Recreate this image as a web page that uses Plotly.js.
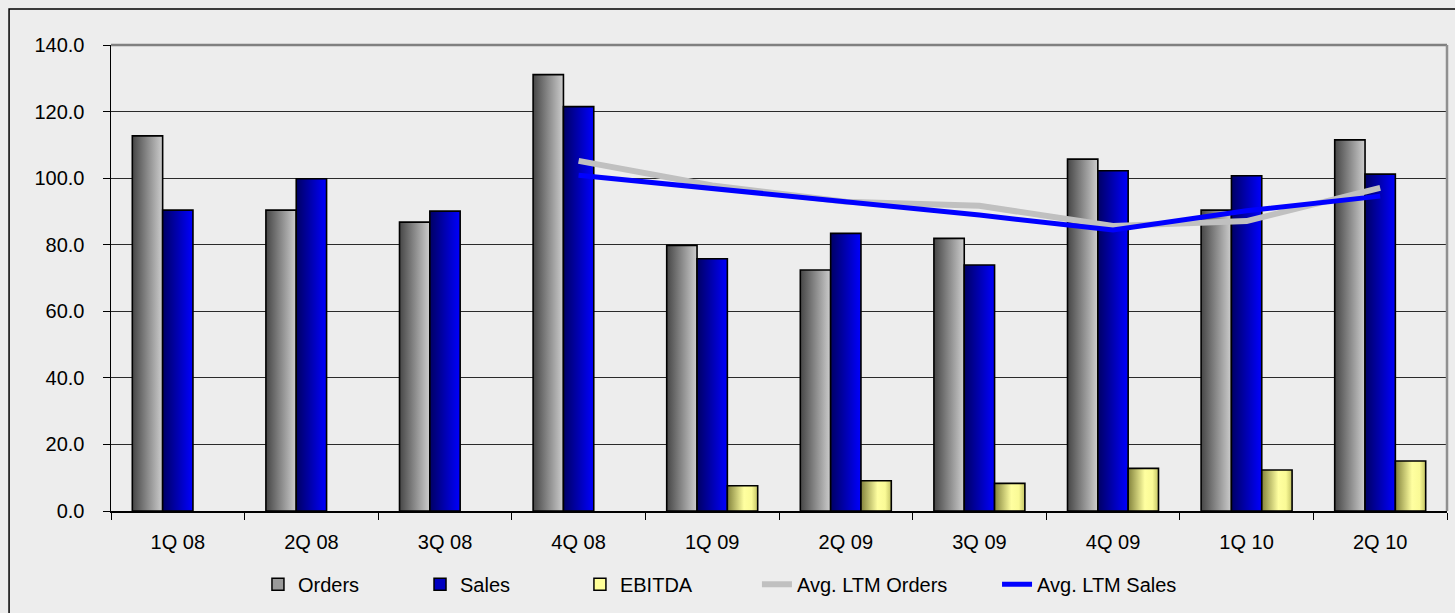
<!DOCTYPE html>
<html>
<head>
<meta charset="utf-8">
<script src="https://cdn.plot.ly/plotly-3.0.1.min.js"></script>
<style>
  html, body { margin: 0; padding: 0; background: #ededed; }
  #chart { width: 1455px; height: 613px; }
</style>
</head>
<body>
<div id="chart"></div>
<script>
// ---- data ----
const categories = ['1Q 08','2Q 08','3Q 08','4Q 08','1Q 09','2Q 09','3Q 09','4Q 09','1Q 10','2Q 10'];
const orders = [112.7, 90.4, 86.8, 131.1, 79.8, 72.4, 81.9, 105.7, 90.4, 111.5];
const sales  = [90.4, 99.8, 90.1, 121.5, 75.8, 83.4, 73.9, 102.2, 100.7, 101.2];
const ebitda = [null, null, null, null, 7.6, 9.1, 8.3, 12.8, 12.3, 15.0];
const ltmOrders = [null, null, null, 105.2, 97.8, 92.9, 91.7, 85.6, 87.1, 97.1];
const ltmSales  = [null, null, null, 100.9, 96.8, 92.7, 88.9, 84.4, 90.2, 94.6];
const yTickVals = [0, 20, 40, 60, 80, 100, 120, 140];

// ---- styling ----
const BAR_W = 0.227;
const series = [
  { name: 'Orders', data: orders, legendColor: '#9a9a9a',
    scale: [[0, 'rgb(70,70,70)'], [1, 'rgb(205,205,205)']] },
  { name: 'Sales', data: sales, legendColor: '#0000c0',
    scale: [[0, 'rgb(0,0,100)'], [1, 'rgb(0,0,255)']] },
  { name: 'EBITDA', data: ebitda, legendColor: '#ffff99',
    scale: [[0, 'rgb(130,130,60)'], [0.55, 'rgb(255,255,160)'], [0.8, 'rgb(250,250,150)'], [1, 'rgb(195,195,100)']] }
];

const traces = [];
// invisible bar traces on the category axis: they hold the categories and the legend entries
series.forEach((s, si) => {
  traces.push({
    type: 'bar', x: categories, y: categories.map(() => null),
    name: s.name, legend: si === 0 ? 'legend' : 'legend' + (si + 1),
    marker: { color: s.legendColor, line: { color: '#000000', width: 1.5 } },
    showlegend: true, hoverinfo: 'skip'
  });
});

// gradient-filled bars, placed on an overlaid linear axis (category index units)
series.forEach((s, si) => {
  s.data.forEach((v, i) => {
    if (v === null) return;
    const x0 = i - 1.5 * BAR_W + si * BAR_W;
    const x1 = x0 + BAR_W;
    traces.push({
      type: 'scatter', mode: 'lines', xaxis: 'x2', yaxis: 'y',
      x: [x0, x0, x1, x1, x0], y: [0, v, v, 0, 0],
      fill: 'toself',
      fillgradient: { type: 'horizontal', colorscale: s.scale },
      line: { color: '#000000', width: 1.6 },
      showlegend: false, hoverinfo: 'skip'
    });
  });
});

const idx = categories.map((_, i) => i);
traces.push({
  type: 'scatter', mode: 'lines', xaxis: 'x2', yaxis: 'y', x: idx, y: ltmOrders,
  name: 'Avg. LTM Orders', legend: 'legend4', line: { color: '#c0c0c0', width: 6 }
});
traces.push({
  type: 'scatter', mode: 'lines', xaxis: 'x2', yaxis: 'y', x: idx, y: ltmSales,
  name: 'Avg. LTM Sales', legend: 'legend5', line: { color: '#0000ff', width: 5 }
});

const font = { family: '"Liberation Sans", Arial, sans-serif', size: 20, color: '#000000' };
function leg(x) {
  return { orientation: 'h', x: x, xanchor: 'left', y: -0.157, yanchor: 'middle',
           font: font, bgcolor: 'rgba(0,0,0,0)', borderwidth: 0 };
}

const layout = {
  width: 1455, height: 613,
  margin: { l: 111, r: 8, t: 45, b: 102, pad: 0 },
  paper_bgcolor: '#ededed',
  plot_bgcolor: 'rgba(0,0,0,0)',
  font: font,
  barmode: 'overlay',
  showlegend: true,
  legend: leg(0.110),
  legend2: leg(0.2313),
  legend3: leg(0.351),
  legend4: leg(0.4835),
  legend5: leg(0.6632),
  xaxis: {
    type: 'category', range: [-0.5, 9.5],
    tickson: 'boundaries', ticks: 'outside', ticklen: 7, tickcolor: '#000', tickwidth: 1,
    showline: true, linecolor: '#000', linewidth: 1.5,
    showgrid: false, zeroline: false,
    tickfont: font, ticklabelstandoff: 12
  },
  xaxis2: {
    overlaying: 'x', range: [-0.5, 9.5], visible: false,
    showgrid: false, zeroline: false
  },
  yaxis: {
    range: [0, 140], tickvals: yTickVals, tickformat: '.1f',
    ticks: 'outside', ticklen: 7, tickcolor: '#000', tickwidth: 1,
    showline: true, linecolor: '#000', linewidth: 1.5,
    showgrid: true, gridcolor: '#2a2a2a', gridwidth: 1,
    zeroline: false, tickfont: font, ticklabelstandoff: 14
  },
  shapes: [
    { type: 'line', xref: 'paper', yref: 'paper', x0: 0, x1: 1, y0: 1, y1: 1,
      line: { color: '#808080', width: 2.5 }, layer: 'above' },
    { type: 'line', xref: 'paper', yref: 'paper', x0: 1, x1: 1, y0: 0, y1: 1,
      line: { color: '#909090', width: 2.5 }, layer: 'above' },
    { type: 'rect', xref: 'paper', yref: 'paper', x0: -0.0763, x1: 1.2, y0: -0.4, y1: 1.0773,
      line: { color: '#000000', width: 1.5 }, fillcolor: 'rgba(0,0,0,0)', layer: 'below' }
  ]
};

Plotly.newPlot('chart', traces, layout, { displayModeBar: false, staticPlot: true });
</script>
</body>
</html>
